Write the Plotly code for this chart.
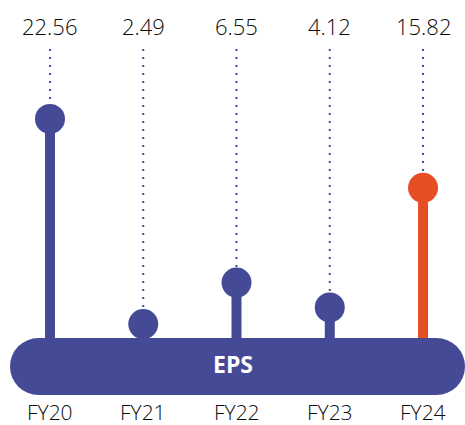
import plotly.graph_objects as go

# ---- data ----
years = ["FY20", "FY21", "FY22", "FY23", "FY24"]
eps_values = [22.56, 2.49, 6.55, 4.12, 15.82]
value_labels = ["22.56", "2.49", "6.55", "4.12", "15.82"]
highlight_year = "FY24"
series_name = "EPS"

# ---- style ----
PURPLE = "#454a96"
ORANGE = "#e64f26"
TEXT = "#0a0a0a"
W, H = 465, 425
FONT = "Open Sans"

Y0, Y1 = -7.39, 34.2          # axis range (value units)
DOT_TOP = 29.4                # where the dotted guides start (value units)

fig = go.Figure()

# dotted guide lines
for yr, v in zip(years, eps_values):
    fig.add_trace(go.Scatter(
        x=[yr, yr], y=[DOT_TOP, v], mode="lines",
        line=dict(color=PURPLE, width=2, dash="2px,6px"),
        hoverinfo="skip", showlegend=False))

# stems
for yr, v in zip(years, eps_values):
    c = ORANGE if yr == highlight_year else PURPLE
    fig.add_trace(go.Scatter(
        x=[yr, yr], y=[0, v], mode="lines",
        line=dict(color=c, width=10),
        hoverinfo="skip", showlegend=False))

# lollipop heads
fig.add_trace(go.Scatter(
    x=years, y=eps_values, mode="markers",
    marker=dict(size=30, color=[ORANGE if y == highlight_year else PURPLE for y in years],
                line=dict(width=0)),
    showlegend=False, name=series_name))

# pill base (rect + two circles), pixel geometry converted to paper coords
px0, px1, py0, py1 = 10, 465, 338, 395
r = (py1 - py0) / 2
def fx(p): return p / W
def fy(p): return 1 - p / H
shapes = [
    dict(type="rect", xref="paper", yref="paper", x0=fx(px0 + r), x1=fx(px1 - r),
         y0=fy(py1), y1=fy(py0), fillcolor=PURPLE, line=dict(width=0), layer="above"),
    dict(type="circle", xref="paper", yref="paper", x0=fx(px0), x1=fx(px0 + 2 * r),
         y0=fy(py1), y1=fy(py0), fillcolor=PURPLE, line=dict(width=0), layer="above"),
    dict(type="circle", xref="paper", yref="paper", x0=fx(px1 - 2 * r), x1=fx(px1),
         y0=fy(py1), y1=fy(py0), fillcolor=PURPLE, line=dict(width=0), layer="above"),
]

annotations = []
for yr, lab in zip(years, value_labels):
    annotations.append(dict(x=yr, xref="x", y=fy(26), yref="paper", text=lab,
                            showarrow=False,
                            font=dict(family=FONT, size=22, color=TEXT, weight=300),
                            xanchor="center", yanchor="middle"))
    annotations.append(dict(x=yr, xref="x", y=fy(412), yref="paper", text=yr,
                            showarrow=False,
                            font=dict(family=FONT, size=21, color=TEXT, weight=300),
                            xanchor="center", yanchor="middle"))
annotations.append(dict(x=fx(233), xref="paper", y=fy(364), yref="paper",
                        text="<b>" + series_name + "</b>", showarrow=False,
                        font=dict(family=FONT, size=23, color="white"),
                        xanchor="center", yanchor="middle"))

fig.update_layout(
    width=W, height=H,
    margin=dict(l=0, r=0, t=0, b=0),
    paper_bgcolor="white", plot_bgcolor="white",
    shapes=shapes, annotations=annotations,
    xaxis=dict(type="category", categoryorder="array", categoryarray=years,
               range=[-0.536, 4.450], visible=False, fixedrange=True),
    yaxis=dict(range=[Y0, Y1], visible=False, fixedrange=True),
)

fig.write_html("out.html", config={"displayModeBar": False},
               post_script="document.body.style.margin='0';document.body.style.overflow='hidden';")
